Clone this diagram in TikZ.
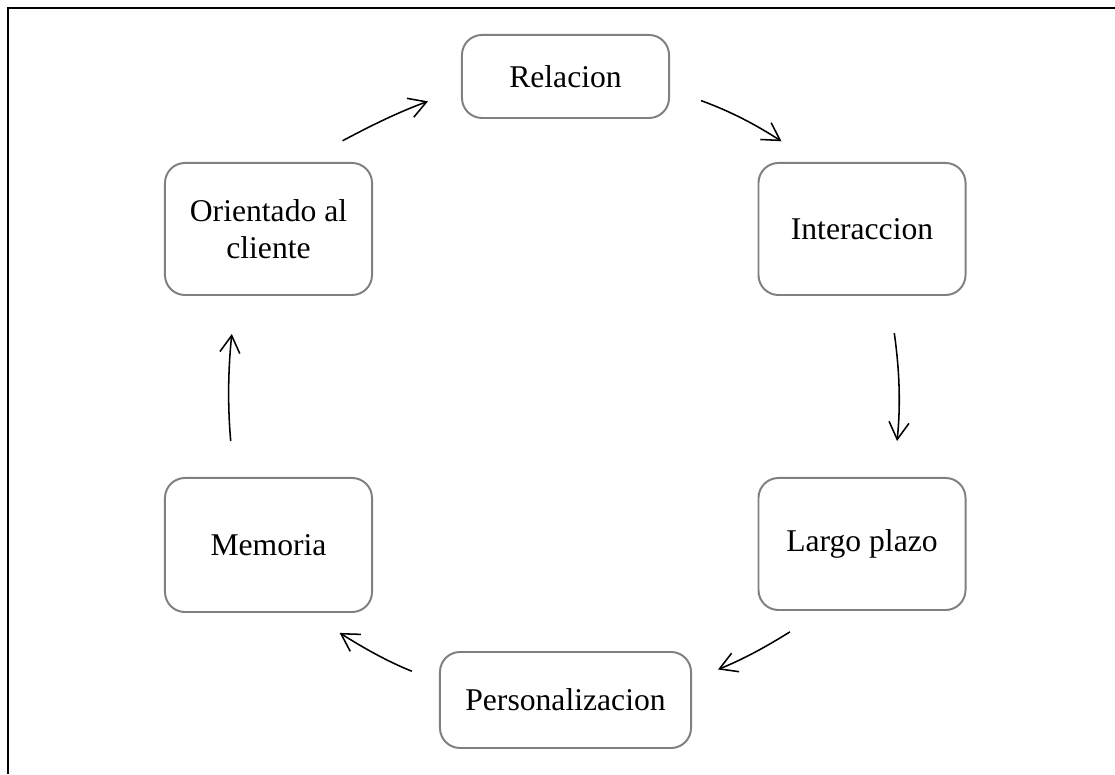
\documentclass[tikz,border=0pt]{standalone}
\usepackage{fontspec}
\setmainfont{Liberation Serif}
\usetikzlibrary{arrows.meta}
\tikzset{
  box/.style={draw=black!50, line width=1.4pt, rounded corners=0.5cm, align=center,
    inner sep=0pt, font=\fontsize{22.5}{26}\selectfont},
  flow/.style={line width=1.1pt, -{Straight Barb[length=0.43cm,width=0.5cm]}},
}
\begin{document}
\begin{tikzpicture}[x=0.025cm,y=0.025cm]
  \useasboundingbox (0,0) rectangle (1115,774);
  \draw[line width=1.4pt] (8,0) -- (8,766) -- (1115,766);
  % boxes
  \node[box, minimum width=5.175cm, minimum height=2.075cm] (rel) at (565.5,697.5) {Relacion};
  \node[box, minimum width=5.175cm, minimum height=3.3cm] (int) at (862,545) {Interaccion};
  \node[box, minimum width=5.175cm, minimum height=3.3cm] (lp) at (862,230) {Largo plazo};
  \node[box, minimum width=6.275cm, minimum height=2.4cm] (per) at (565.5,74) {Personalizacion};
  \node[box, minimum width=5.175cm, minimum height=3.35cm] (mem) at (268.5,229) {Memoria};
  \node[box, minimum width=5.175cm, minimum height=3.3cm] (ori) at (268.5,545) {Orientado al\\cliente};
  % cycle
  \draw[flow, shorten <=0.825cm, shorten >=0.95cm] (rel.-7) .. controls +(-20:64) and +(147:69) .. (int.126);
  \draw[flow, shorten <=0.935cm, shorten >=0.905cm] (int.-68) .. controls +(-82:74) and +(84:73) .. (lp.65);
  \draw[flow, shorten <=0.985cm, shorten >=0.7cm] (lp.-120) .. controls +(-148:67) and +(22:56) .. (per.9);
  \draw[flow, shorten <=0.73cm, shorten >=0.94cm] (per.172) .. controls +(158:57) and +(-32:66) .. (mem.-60);
  \draw[flow, shorten <=0.9cm, shorten >=0.955cm] (mem.117) .. controls +(95:72) and +(-96:74) .. (ori.-116);
  \draw[flow, shorten <=1.13cm, shorten >=0.8775cm] (ori.63) .. controls +(28:77) and +(-160:67) .. (rel.-173);
\end{tikzpicture}
\end{document}
